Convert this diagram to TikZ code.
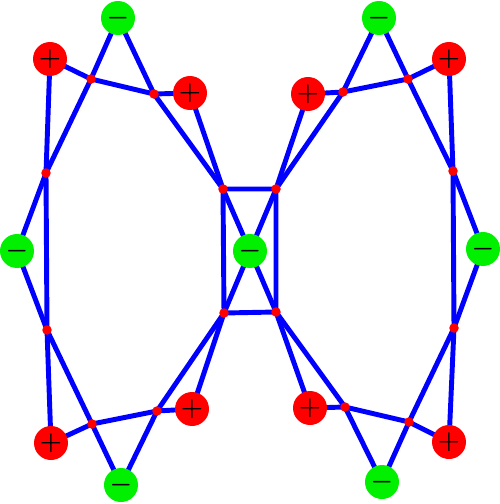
\documentclass[tikz,border=0pt]{standalone}
\usepackage{amsmath}
\usepackage{tikz}
\usepackage{xcolor}
\usetikzlibrary{backgrounds}

\definecolor{pluscol}{RGB}{255,0,0}
\definecolor{minuscol}{RGB}{0,240,0}
\definecolor{bondcol}{RGB}{0,0,255}

\begin{document}
\begin{tikzpicture}[x=0.02cm, y=-0.02cm,
        poscharge/.style={circle, fill=pluscol, minimum size=0.68cm, inner sep=0pt, font=\boldmath\Large},
        negcharge/.style={circle, fill=minuscol, minimum size=0.68cm, inner sep=0pt, font=\boldmath\Large},
        site/.style={circle, fill=pluscol, minimum size=0.19cm, inner sep=0pt},
        bond/.style={bondcol, line width=2.8pt}]
        \useasboundingbox (0, 0) rectangle (500, 504);

        % --- Centre ---
        \node[negcharge] (mid) at (250, 251) {$-$};
        \node[site] (tl) at (223, 189) {};
        \node[site] (tr) at (276, 189) {};
        \node[site] (bl) at (224, 313) {};
        \node[site] (br) at (276, 312) {};

        % --- Upper left ring ---
        \node[negcharge] (ulm) at (118, 18) {$-$};
        \node[poscharge] (ulpa) at (50, 59) {$+$};
        \node[poscharge] (ulpb) at (190, 93) {$+$};
        \node[site] (ula) at (91, 79) {};
        \node[site] (ulb) at (154, 94) {};
        \node[site] (ulc) at (46, 173) {};

        % --- Left ---
        \node[negcharge] (lm) at (17, 251) {$-$};

        % --- Lower left ring ---
        \node[site] (llc) at (47, 330) {};
        \node[site] (lla) at (92, 424) {};
        \node[site] (llb) at (157, 411) {};
        \node[poscharge] (llpa) at (51, 443) {$+$};
        \node[poscharge] (llpb) at (192, 409) {$+$};
        \node[negcharge] (llm) at (121, 485) {$-$};

        % --- Upper right ring ---
        \node[negcharge] (urm) at (379, 18) {$-$};
        \node[poscharge] (urpa) at (449, 59) {$+$};
        \node[poscharge] (urpb) at (308, 94) {$+$};
        \node[site] (ura) at (408, 79) {};
        \node[site] (urb) at (343, 92) {};
        \node[site] (urc) at (453, 171) {};

        % --- Right ---
        \node[negcharge] (rm) at (483, 249) {$-$};

        % --- Lower right ring ---
        \node[site] (lrc) at (454, 328) {};
        \node[site] (lra) at (409, 422) {};
        \node[site] (lrb) at (345, 407) {};
        \node[poscharge] (lrpa) at (449, 442) {$+$};
        \node[poscharge] (lrpb) at (310, 408) {$+$};
        \node[negcharge] (lrm) at (382, 482) {$-$};

        \begin{scope}[on background layer]
        % --- Centre bonds ---
        \draw[bond] (tl.center) -- (tr.center) -- (br.center) -- (bl.center) -- cycle;
        \draw[bond] (tl.center) -- (mid.center) -- (br.center);
        \draw[bond] (tr.center) -- (mid.center) -- (bl.center);

        % --- Upper left bonds ---
        \draw[bond] (ulpa.center) -- (ula.center) -- (ulb.center) -- (ulpb.center);
        \draw[bond] (ulm.center) -- (ula.center) -- (ulc.center);
        \draw[bond] (ulm.center) -- (ulb.center) -- (tl.center);
        \draw[bond] (ulpa.center) -- (ulc.center);
        \draw[bond] (ulpb.center) -- (tl.center);

        % --- Left bonds ---
        \draw[bond] (ulc.center) -- (lm.center) -- (llc.center);
        \draw[bond] (ulc.center) -- (llc.center);

        % --- Lower left bonds ---
        \draw[bond] (llpa.center) -- (lla.center) -- (llb.center) -- (llpb.center);
        \draw[bond] (llm.center) -- (lla.center) -- (llc.center);
        \draw[bond] (llm.center) -- (llb.center) -- (bl.center);
        \draw[bond] (llpa.center) -- (llc.center);
        \draw[bond] (llpb.center) -- (bl.center);

        % --- Upper right bonds ---
        \draw[bond] (urpa.center) -- (ura.center) -- (urb.center) -- (urpb.center);
        \draw[bond] (urm.center) -- (ura.center) -- (urc.center);
        \draw[bond] (urm.center) -- (urb.center) -- (tr.center);
        \draw[bond] (urpa.center) -- (urc.center);
        \draw[bond] (urpb.center) -- (tr.center);

        % --- Right bonds ---
        \draw[bond] (urc.center) -- (rm.center) -- (lrc.center);
        \draw[bond] (urc.center) -- (lrc.center);

        % --- Lower right bonds ---
        \draw[bond] (lrpa.center) -- (lra.center) -- (lrb.center) -- (lrpb.center);
        \draw[bond] (lrm.center) -- (lra.center) -- (lrc.center);
        \draw[bond] (lrm.center) -- (lrb.center) -- (br.center);
        \draw[bond] (lrpa.center) -- (lrc.center);
        \draw[bond] (lrpb.center) -- (br.center);
        \end{scope}

    \end{tikzpicture}
\end{document}
